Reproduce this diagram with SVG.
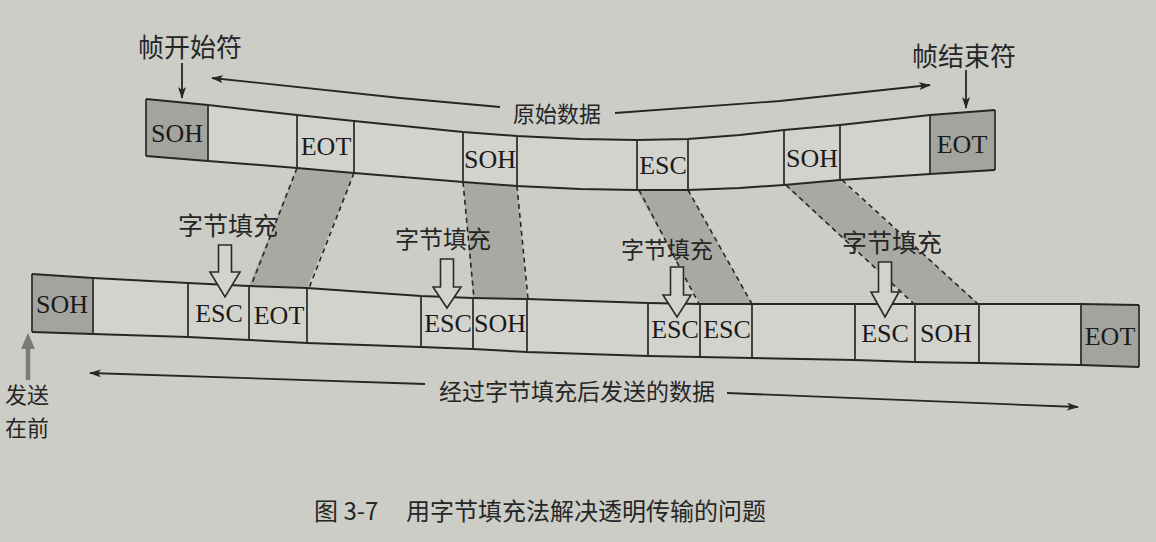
<svg xmlns="http://www.w3.org/2000/svg" width="1156" height="542" viewBox="0 0 1156 542">
<style>
.cn{font-family:"Noto Sans CJK SC","Noto Sans",sans-serif;fill:#262626}
.lb{font-family:"Liberation Serif","Times New Roman",serif;font-size:26px;fill:#1a1a1a;text-anchor:middle}
.frame{fill:#d3d3ce;stroke:none}
.edge{fill:none;stroke:#262626;stroke-width:2;stroke-linejoin:round}
.div{stroke:#303030;stroke-width:1.8}
.shade{fill:#a4a49f}
.band{fill:#a9a9a4;stroke:none}
.dash{fill:none;stroke:#262626;stroke-width:1.6;stroke-dasharray:5 4}
.ln{fill:none;stroke:#262626;stroke-width:1.8}
.blk{fill:#d3d3ce;stroke:#2a2a2a;stroke-width:1.6;stroke-linejoin:miter}
</style>
<defs>
<marker id="ah" viewBox="0 0 12 8" refX="11" refY="4" markerWidth="12" markerHeight="8" markerUnits="userSpaceOnUse" orient="auto">
<path d="M0,0 L12,4 L0,8 L3,4 Z" fill="#262626"/>
</marker>
</defs>
<rect width="1156" height="542" fill="#cdcdc8"/>

<g id="bands">
<polygon class="band" points="297,168 354,173 307,288 249,286"/>
<line class="dash" x1="297" y1="168" x2="251" y2="286"/>
<line class="dash" x1="354" y1="173" x2="309" y2="288"/>
<polygon class="band" points="463,182 517,186 527,299 473,298"/>
<line class="dash" x1="463" y1="182" x2="474" y2="298"/>
<line class="dash" x1="517" y1="186" x2="528" y2="299"/>
<polygon class="band" points="637,190 688,190 752,304 700,304"/>
<line class="dash" x1="639" y1="190" x2="699" y2="304"/>
<line class="dash" x1="688" y1="190" x2="752" y2="304"/>
<polygon class="band" points="784,185 840,180 979,304 915,304"/>
<line class="dash" x1="786" y1="185" x2="914" y2="304"/>
<line class="dash" x1="842" y1="180" x2="978" y2="304"/>
</g>

<g id="top-frame">
<polygon class="frame" points="146,99 208,105 297,115 354,121 463,132 517,136 580,139 637,140 688,139 740,135 784,130 840,125 930,115 995,110 995,170 930,174 840,180 784,185 740,188 688,190 637,190 580,189 517,186 463,182 354,173 297,168 208,161 146,156"/>
<polygon class="shade" points="146,99 208,105 208,161 146,156"/>
<polygon class="shade" points="930,115 995,110 995,170 930,174"/>
<polyline class="edge" points="146,99 208,105 297,115 354,121 463,132 517,136 580,139 637,140 688,139 740,135 784,130 840,125 930,115 995,110"/>
<polyline class="edge" points="146,156 208,161 297,168 354,173 463,182 517,186 580,189 637,190 688,190 740,188 784,185 840,180 930,174 995,170"/>
<line class="div" x1="146" y1="99" x2="146" y2="156"/>
<line class="div" x1="208" y1="105" x2="208" y2="161"/>
<line class="div" x1="297" y1="115" x2="297" y2="168"/>
<line class="div" x1="354" y1="121" x2="354" y2="173"/>
<line class="div" x1="463" y1="132" x2="463" y2="182"/>
<line class="div" x1="517" y1="136" x2="517" y2="186"/>
<line class="div" x1="637" y1="140" x2="637" y2="190"/>
<line class="div" x1="688" y1="139" x2="688" y2="190"/>
<line class="div" x1="784" y1="130" x2="784" y2="185"/>
<line class="div" x1="840" y1="125" x2="840" y2="180"/>
<line class="div" x1="930" y1="115" x2="930" y2="174"/>
<line class="div" x1="995" y1="110" x2="995" y2="170" stroke-width="3"/>
<text class="lb" x="177" y="142">SOH</text>
<text class="lb" x="326" y="155">EOT</text>
<text class="lb" x="490" y="168">SOH</text>
<text class="lb" x="663" y="174">ESC</text>
<text class="lb" x="812" y="167">SOH</text>
<text class="lb" x="962" y="153">EOT</text>
</g>

<g id="bottom-frame">
<polygon class="frame" points="32,274 93,278 188,283 249,286 307,288 421,296 473,298 527,299 648,303 700,304 752,304 855,304 915,304 979,304 1081,304 1139,305 1139,367 1081,365 979,363 915,362 855,360 752,358 700,357 648,356 527,352 473,349 421,347 307,343 249,340 188,337 93,334 32,332"/>
<polygon class="shade" points="32,274 93,278 93,334 32,332"/>
<polygon class="shade" points="1081,304 1139,305 1139,367 1081,365"/>
<polyline class="edge" points="32,274 93,278 188,283 249,286 307,288 421,296 473,298 527,299 648,303 700,304 752,304 855,304 915,304 979,304 1081,304 1139,305"/>
<polyline class="edge" points="32,332 93,334 188,337 249,340 307,343 421,347 473,349 527,352 648,356 700,357 752,358 855,360 915,362 979,363 1081,365 1139,367"/>
<line class="div" x1="32" y1="274" x2="32" y2="332"/>
<line class="div" x1="93" y1="278" x2="93" y2="334"/>
<line class="div" x1="188" y1="283" x2="188" y2="337"/>
<line class="div" x1="249" y1="286" x2="249" y2="340"/>
<line class="div" x1="307" y1="288" x2="307" y2="343"/>
<line class="div" x1="421" y1="296" x2="421" y2="347"/>
<line class="div" x1="473" y1="298" x2="473" y2="349"/>
<line class="div" x1="527" y1="299" x2="527" y2="352"/>
<line class="div" x1="648" y1="303" x2="648" y2="356"/>
<line class="div" x1="700" y1="304" x2="700" y2="357"/>
<line class="div" x1="752" y1="304" x2="752" y2="358"/>
<line class="div" x1="855" y1="304" x2="855" y2="360"/>
<line class="div" x1="915" y1="304" x2="915" y2="362"/>
<line class="div" x1="979" y1="304" x2="979" y2="363"/>
<line class="div" x1="1081" y1="304" x2="1081" y2="365"/>
<line class="div" x1="1139" y1="305" x2="1139" y2="367" stroke-width="3"/>
<text class="lb" x="62" y="313">SOH</text>
<text class="lb" x="219" y="322">ESC</text>
<text class="lb" x="279" y="324">EOT</text>
<text class="lb" x="448" y="332">ESC</text>
<text class="lb" x="500" y="332">SOH</text>
<text class="lb" x="675" y="338">ESC</text>
<text class="lb" x="727" y="338">ESC</text>
<text class="lb" x="885" y="342">ESC</text>
<text class="lb" x="946" y="342">SOH</text>
<text class="lb" x="1110" y="345">EOT</text>
</g>

<g id="stuffing-arrows">
<polygon class="blk" points="218.5,245 231.5,245 231.5,272 240,272 225,297 210,272 218.5,272"/>
<polygon class="blk" points="440.5,259 453.5,259 453.5,287 461,287 447,308 433,287 440.5,287"/>
<polygon class="blk" points="670.5,267 683.5,267 683.5,295 691,295 677,317 663,295 670.5,295"/>
<polygon class="blk" points="878.5,262 891.5,262 891.5,292 899,292 885,317 871,292 878.5,292"/>
</g>

<g id="connectors">
<line class="ln" x1="182" y1="63" x2="182" y2="98" marker-end="url(#ah)"/>
<line class="ln" x1="966" y1="70" x2="966" y2="108" marker-end="url(#ah)"/>
<polyline class="ln" points="500,107 400,98 212,78" marker-end="url(#ah)"/>
<polyline class="ln" points="615,113 780,101 930,85" marker-end="url(#ah)"/>
<line class="ln" x1="425" y1="384" x2="90" y2="373" marker-end="url(#ah)"/>
<line class="ln" x1="727" y1="393" x2="1078" y2="407" marker-end="url(#ah)"/>
<line x1="28" y1="380" x2="28" y2="346" stroke="#7a7a76" stroke-width="4.5"/>
<polygon points="28,333 35,349 21,349" fill="#7a7a76"/>
</g>

<g id="labels">
<text class="cn" x="190" y="57" font-size="26" text-anchor="middle">帧开始符</text>
<text class="cn" x="964" y="66" font-size="26" text-anchor="middle">帧结束符</text>
<text class="cn" x="557" y="122" font-size="22" text-anchor="middle">原始数据</text>
<text class="cn" x="228" y="235" font-size="25" text-anchor="middle">字节填充</text>
<text class="cn" x="443" y="248" font-size="24" text-anchor="middle">字节填充</text>
<text class="cn" x="667" y="258" font-size="23" text-anchor="middle">字节填充</text>
<text class="cn" x="892" y="252" font-size="25" text-anchor="middle">字节填充</text>
<text class="cn" x="577" y="400" font-size="23" text-anchor="middle">经过字节填充后发送的数据</text>
<text class="cn" font-size="22"><tspan x="5" y="403">发送</tspan><tspan x="5" y="436">在前</tspan></text>
<text class="cn" y="520" font-size="24"><tspan x="314">图 3-7</tspan><tspan x="406">用字节填充法解决透明传输的问题</tspan></text>
</g>
</svg>
